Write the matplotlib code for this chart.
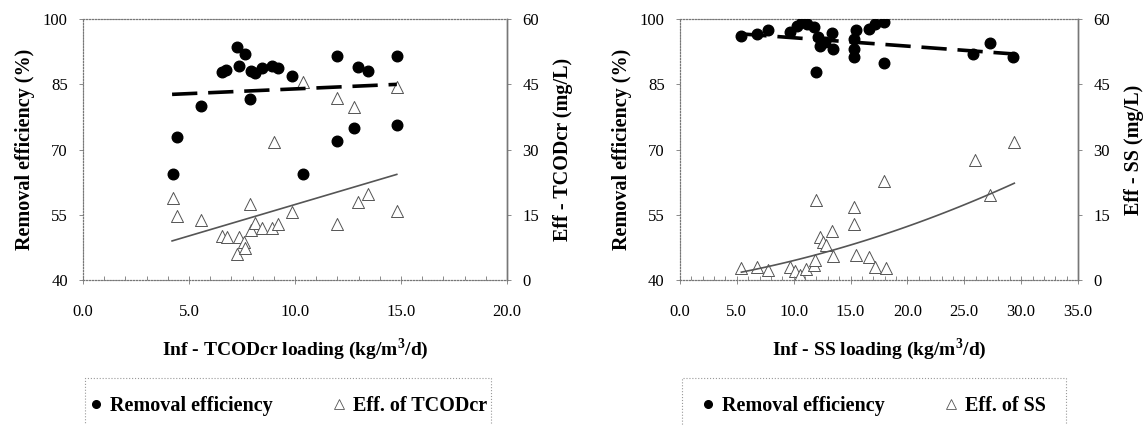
import matplotlib.pyplot as plt
import numpy as np
from matplotlib.lines import Line2D
from matplotlib.patches import Rectangle
from matplotlib.ticker import MultipleLocator

plt.rcParams["font.family"] = ["Liberation Serif", "DejaVu Serif"]
plt.rcParams["mathtext.fontset"] = "custom"
plt.rcParams["mathtext.bf"] = "Liberation Serif:bold"
plt.rcParams["mathtext.rm"] = "Liberation Serif"

# TCODcr loading series
tcod_x = [4.23, 4.42, 5.57, 6.54, 6.75, 7.28, 7.37, 7.64, 7.88, 7.90, 8.11, 8.43,
          8.90, 9.21, 9.84, 10.36, 12.0, 12.0, 12.78, 12.99, 13.46, 14.83, 14.83]
tcod_removal = [64.3, 72.8, 80.1, 87.9, 88.3, 93.6, 89.2, 92.0, 81.6, 88.0, 87.5, 88.7,
                89.3, 88.7, 86.9, 64.5, 91.5, 72.0, 75.0, 89.0, 88.1, 91.5, 75.6]
tcod_eff_x = [4.23, 4.42, 5.57, 6.54, 6.78, 7.28, 7.37, 7.60, 7.65, 7.88, 7.90, 8.11,
              8.43, 8.90, 9.00, 9.21, 9.84, 10.36, 12.0, 12.0, 12.78, 12.99, 13.46,
              14.83, 14.83]
tcod_eff = [18.8, 14.7, 13.9, 10.1, 9.8, 6.0, 10.0, 8.8, 7.3, 17.6, 11.5, 13.2,
            11.9, 11.9, 31.8, 12.9, 15.7, 45.6, 13.0, 41.8, 39.8, 17.9, 19.9,
            44.3, 15.9]
# trend lines of the TCODcr panel
tcod_trend_x = [4.2, 14.8]
tcod_trend_removal = [82.7, 85.0]
tcod_trend_eff = [9.0, 24.3]

# SS loading series
ss_x = [5.37, 6.75, 7.78, 9.69, 10.28, 10.72, 11.16, 11.75, 11.98, 12.10, 12.33, 12.78,
        13.36, 13.45, 15.33, 15.33, 15.33, 15.50, 16.60, 17.18, 17.97, 17.90, 25.8,
        27.3, 29.3]
ss_removal = [96.2, 96.6, 97.5, 97.0, 98.5, 99.3, 98.9, 98.1, 87.8, 95.8, 93.9, 94.7,
              96.8, 93.2, 95.5, 93.2, 91.2, 97.5, 97.8, 98.9, 99.3, 89.9, 91.9,
              94.5, 91.3]
ss_eff_x = [5.37, 6.75, 7.78, 9.69, 10.13, 10.57, 11.10, 11.75, 11.90, 11.98, 12.27,
            12.57, 12.80, 13.36, 13.45, 15.33, 15.33, 15.50, 16.60, 17.18, 17.97,
            18.15, 25.9, 27.3, 29.36]
ss_eff = [2.7, 3.1, 2.3, 3.1, 2.1, 1.1, 2.5, 3.4, 4.6, 18.3, 9.9,
          8.8, 8.0, 11.3, 5.5, 16.8, 12.8, 5.7, 5.2, 3.1, 22.8,
          2.7, 27.7, 19.5, 31.7]
# trend lines of the SS panel
ss_trend_x = [5.4, 29.3]
ss_trend_removal = [96.6, 92.0]
ss_curve_x = [5.4, 10.0, 15.0, 20.0, 25.0, 29.4]
ss_curve_eff = [1.4, 5.3, 8.0, 11.7, 17.6, 22.3]

panels = [
    dict(x=tcod_x, rem=tcod_removal, ex=tcod_eff_x, eff=tcod_eff, xmax=20,
         tx=tcod_trend_x, trem=tcod_trend_removal,
         cx=tcod_trend_x, ceff=tcod_trend_eff, cdeg=1,
         xlabel="Inf - TCODcr loading (kg/m$^{\\mathbf{3}}$/d)",
         ylabel2="Eff - TCODcr (mg/L)", leg="Eff. of TCODcr",
         rect=[0.0726, 0.341, 0.3706, 0.614], box_w=0.355),
    dict(x=ss_x, rem=ss_removal, ex=ss_eff_x, eff=ss_eff, xmax=35,
         tx=ss_trend_x, trem=ss_trend_removal,
         cx=ss_curve_x, ceff=ss_curve_eff, cdeg=2,
         xlabel="Inf - SS loading (kg/m$^{\\mathbf{3}}$/d)",
         ylabel2="Eff - SS (mg/L)", leg="Eff. of SS",
         rect=[0.5944, 0.341, 0.3479, 0.614], box_w=0.335),
]

fig = plt.figure(figsize=(11.44, 4.25), dpi=100)
grey = "#777777"

for p in panels:
    ax = fig.add_axes(p["rect"])
    ax2 = ax.twinx()
    ax.set_zorder(ax2.get_zorder() + 1)
    ax.patch.set_visible(False)

    ax.scatter(p["x"], p["rem"], s=58, color="black", zorder=3)
    ax2.scatter(p["ex"], p["eff"], s=75, marker="^", facecolor="white",
                edgecolor="#555555", linewidth=0.7, zorder=2)

    # trend lines
    ax.plot(p["tx"], p["trem"], color="black", lw=2.6, dashes=(7, 3), zorder=4)
    cx = np.linspace(p["cx"][0], p["cx"][-1], 100)
    coef = np.polyfit(p["cx"], p["ceff"], p["cdeg"])
    ax2.plot(cx, np.polyval(coef, cx), color="#555555", lw=1.2, zorder=2)

    ax.set_xlim(0, p["xmax"])
    ax.set_ylim(40, 100)
    ax2.set_ylim(0, 60)
    ax.set_yticks([40, 55, 70, 85, 100])
    ax2.set_yticks([0, 15, 30, 45, 60])
    ax.xaxis.set_major_locator(MultipleLocator(5))
    ax.xaxis.set_minor_locator(MultipleLocator(1))
    ax.set_xticklabels([f"{v:.1f}" for v in ax.get_xticks()])

    ax.tick_params(axis="x", which="major", direction="inout", length=6,
                   width=0.6, color=grey, labelsize=12, pad=14)
    ax.tick_params(axis="x", which="minor", direction="in", length=3,
                   width=0.6, color=grey)
    ax.tick_params(axis="y", direction="out", length=3, width=0.6, color=grey,
                   labelsize=12, pad=8)
    ax2.tick_params(axis="y", direction="out", length=3, width=0.6, color=grey,
                    labelsize=12, pad=8)

    for a in (ax, ax2):
        for side in ("top", "left", "bottom"):
            a.spines[side].set_linestyle(":")
            a.spines[side].set_color(grey)
            a.spines[side].set_linewidth(0.8)
        a.spines["right"].set_color(grey)
        a.spines["right"].set_linewidth(1.0)

    ax.set_xlabel(p["xlabel"], fontsize=14, fontweight="bold", labelpad=12)
    ax.set_ylabel("Removal efficiency (%)", fontsize=14.5, fontweight="bold",
                  labelpad=6)
    ax2.set_ylabel(p["ylabel2"], fontsize=14.5, fontweight="bold", labelpad=10)

    # legend box running off the bottom edge
    l, b, w, h = p["rect"]
    box = Rectangle((l + 0.002, -0.05), p["box_w"], 0.16,
                    transform=fig.transFigure, fill=False,
                    edgecolor="#999999", lw=0.8, ls=":")
    fig.add_artist(box)
    handles = [
        Line2D([], [], ls="none", marker="o", color="black", markersize=5.5),
        Line2D([], [], ls="none", marker="^", markerfacecolor="white",
               markeredgecolor="#555555", markersize=6.5, markeredgewidth=0.6),
    ]
    fig.legend(handles, ["Removal efficiency", p["leg"]], loc="center",
               bbox_to_anchor=(l + p["box_w"] / 2 + 0.002, 0.045), ncol=2,
               frameon=False, handlelength=0.6, handletextpad=0.4,
               columnspacing=3.0,
               prop=dict(family="Liberation Serif", weight="bold", size=14.5))

fig.savefig("out.png", dpi=100)
